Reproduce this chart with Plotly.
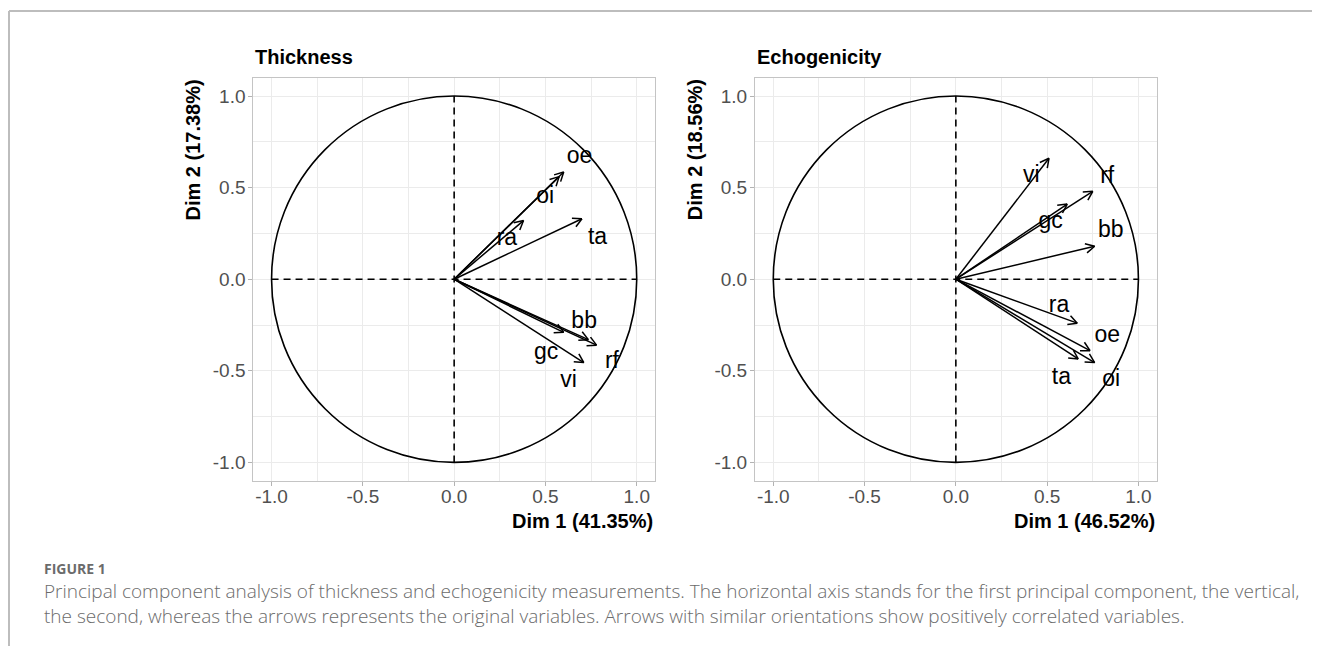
import math
import plotly.graph_objects as go

# ---------------- data ----------------
thick_vars = ["oe", "oi", "ra", "ta", "bb", "rf", "gc", "vi"]
thick_dim1 = [0.60, 0.575, 0.38, 0.70, 0.735, 0.78, 0.60, 0.71]
thick_dim2 = [0.585, 0.56, 0.32, 0.33, -0.33, -0.36, -0.29, -0.455]
thick_lab_x = [0.687, 0.499, 0.289, 0.785, 0.712, 0.864, 0.504, 0.626]
thick_lab_y = [0.664, 0.446, 0.217, 0.223, -0.237, -0.455, -0.404, -0.558]

echo_vars = ["vi", "rf", "gc", "bb", "ra", "oe", "oi", "ta"]
echo_dim1 = [0.51, 0.75, 0.61, 0.76, 0.665, 0.735, 0.76, 0.67]
echo_dim2 = [0.66, 0.48, 0.41, 0.18, -0.24, -0.39, -0.455, -0.435]
echo_lab_x = [0.413, 0.829, 0.519, 0.848, 0.565, 0.829, 0.851, 0.578]
echo_lab_y = [0.562, 0.559, 0.313, 0.264, -0.150, -0.313, -0.553, -0.540]

panel_titles = ["Thickness", "Echogenicity"]
x_titles = ["Dim 1 (41.35%)", "Dim 1 (46.52%)"]
y_titles = ["Dim 2 (17.38%)", "Dim 2 (18.56%)"]
tick_vals = [-1.0, -0.5, 0.0, 0.5, 1.0]
tick_text = ["-1.0", "-0.5", "0.0", "0.5", "1.0"]

fig_label = "FIGURE 1"
caption_lines = [
    "Principal component analysis of thickness and echogenicity measurements. The horizontal axis stands for the first principal component, the vertical,",
    "the second, whereas the arrows represents the original variables. Arrows with similar orientations show positively correlated variables.",
]

# ---------------- layout helpers ----------------
W, H = 1320, 646
OFF = 8  # default page body margin
FONT = "Liberation Sans, Arial, sans-serif"


def PX(px):
    return (px - OFF) / W


def PY(py):
    return 1 - (py - OFF) / H


px_left = [253.3, 755.0]
px_width = 401.7
px_top, px_bottom = 77.7, 480.7
HEAD = 0.055  # arrow head length in data units
ANG = math.radians(28)


def arrow_xy(xs, ys):
    X, Y = [], []
    for x, y in zip(xs, ys):
        X += [0, x, None]
        Y += [0, y, None]
        th = math.atan2(y, x)
        for s in (1, -1):
            X += [x - HEAD * math.cos(th + s * ANG), x, None]
            Y += [y - HEAD * math.sin(th + s * ANG), y, None]
    return X, Y


fig = go.Figure()
panels = [
    (thick_vars, thick_dim1, thick_dim2, thick_lab_x, thick_lab_y),
    (echo_vars, echo_dim1, echo_dim2, echo_lab_x, echo_lab_y),
]

shapes = []
annotations = []
for i, (vars_, d1, d2, lx, ly) in enumerate(panels):
    xa = "x" if i == 0 else "x2"
    ya = "y" if i == 0 else "y2"
    X, Y = arrow_xy(d1, d2)
    fig.add_trace(go.Scatter(x=X, y=Y, mode="lines", xaxis=xa, yaxis=ya,
                             line=dict(color="black", width=1.5),
                             hoverinfo="skip", showlegend=False))
    fig.add_trace(go.Scatter(x=lx, y=ly, text=vars_, mode="text", xaxis=xa, yaxis=ya,
                             textposition="middle center",
                             textfont=dict(family=FONT, size=23, color="black"),
                             showlegend=False))
    shapes.append(dict(type="circle", xref=xa, yref=ya, x0=-1, y0=-1, x1=1, y1=1,
                       line=dict(color="black", width=1.6)))
    shapes.append(dict(type="line", xref=xa, yref=ya, x0=-1, y0=0, x1=1, y1=0,
                       line=dict(color="black", width=1.6, dash="7px,5px")))
    shapes.append(dict(type="line", xref=xa, yref=ya, x0=0, y0=-1, x1=0, y1=1,
                       line=dict(color="black", width=1.6, dash="7px,5px")))

    x0 = PX(px_left[i])
    x1 = PX(px_left[i] + px_width)
    ytop = PY(px_top)
    ybot = PY(px_bottom)
    axis_common = dict(range=[-1.1, 1.1], tickmode="array", tickvals=tick_vals,
                       ticktext=tick_text, showgrid=False, zeroline=False,
                       showline=True, mirror=True, linecolor="#C4C4C4", linewidth=1,
                       ticks="outside", ticklen=4, tickcolor="#B3B3B3", tickwidth=1,
                       tickfont=dict(family=FONT, size=19, color="#505050"),
                       minor=dict(tickmode="linear", tick0=0, dtick=0.25, showgrid=True,
                                  gridcolor="#EBEBEB", gridwidth=1, ticks=""),
                       fixedrange=True)
    key = "" if i == 0 else "2"
    fig.update_layout(**{
        "xaxis" + key: dict(axis_common, domain=[x0, x1], anchor=ya, ticklabelstandoff=-6),
        "yaxis" + key: dict(axis_common, domain=[ybot, ytop], anchor=xa, ticklabelstandoff=-1),
    })
    annotations.append(dict(text="<b>%s</b>" % panel_titles[i], xref="paper", yref="paper",
                            x=x0, y=PY(57), xanchor="left", yanchor="middle",
                            showarrow=False, font=dict(family=FONT, size=20, color="black")))
    annotations.append(dict(text="<b>%s</b>" % x_titles[i], xref="paper", yref="paper",
                            x=x1, y=PY(521), xanchor="right", yanchor="middle",
                            showarrow=False, font=dict(family=FONT, size=20, color="black")))
    annotations.append(dict(text="<b>%s</b>" % y_titles[i], xref="paper", yref="paper",
                            x=PX(px_left[i] - 60), y=ytop, xanchor="center", yanchor="top",
                            textangle=-90, showarrow=False,
                            font=dict(family=FONT, size=20, color="black")))

# caption
CAP_FONT = "Open Sans, Lato, sans-serif"
annotations.append(dict(text="<b>%s</b>" % fig_label, xref="paper", yref="paper",
                        x=PX(42), y=PY(568), xanchor="left", yanchor="middle",
                        showarrow=False, font=dict(family=CAP_FONT, size=14, color="#6b6b6b")))
annotations.append(dict(text="<br>".join(caption_lines), xref="paper", yref="paper",
                        x=PX(42), y=PY(603), xanchor="left", yanchor="middle",
                        align="left", showarrow=False,
                        font=dict(family=CAP_FONT, size=19, color="#6b6b6b", weight=300)))

# figure frame (top and left rules)
shapes.append(dict(type="line", xref="paper", yref="paper", x0=PX(9), x1=1, y0=PY(11), y1=PY(11),
                   line=dict(color="#BDBDBD", width=2)))
shapes.append(dict(type="line", xref="paper", yref="paper", x0=PX(9), x1=PX(9), y0=PY(11), y1=0,
                   line=dict(color="#BDBDBD", width=2)))

fig.update_layout(width=W, height=H, margin=dict(l=0, r=0, t=0, b=0),
                  paper_bgcolor="white", plot_bgcolor="white",
                  shapes=shapes, annotations=annotations, showlegend=False)

fig.write_html("out.html")
